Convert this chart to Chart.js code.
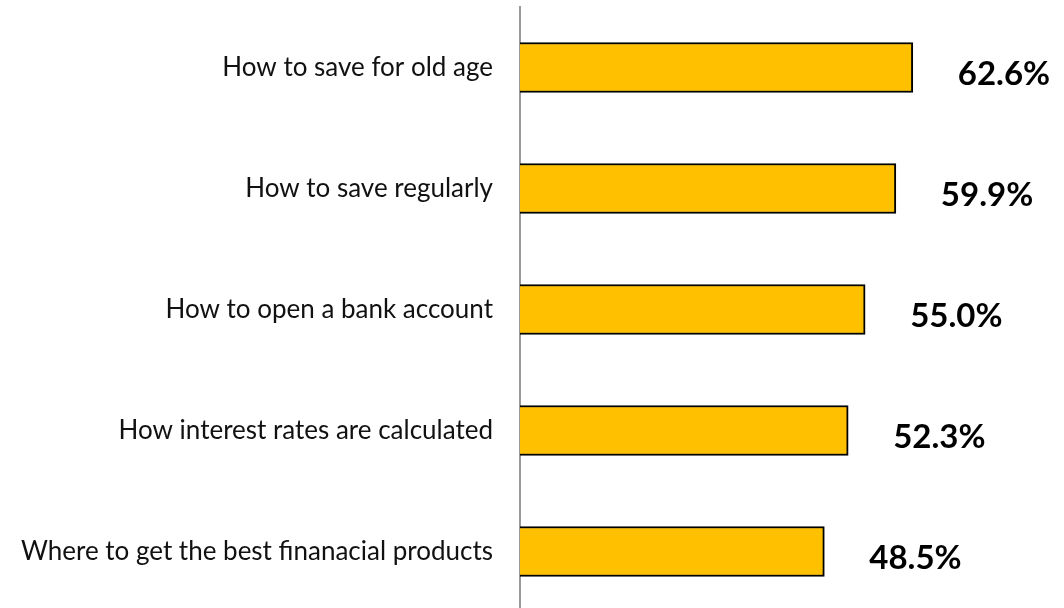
<!DOCTYPE html>
<html>
<head>
<meta charset="utf-8">
<script src="https://cdn.jsdelivr.net/npm/chart.js@4/dist/chart.umd.min.js"></script>
<style>
  html, body { margin: 0; padding: 0; background: #fff; overflow: hidden; }
  #wrap { position: relative; width: 1064px; height: 612px; }
</style>
</head>
<body>
<div id="wrap"><canvas id="c"></canvas></div>
<script>
// Topics people want to learn about, with share of respondents (%)
const topics = [
  'How to save for old age',
  'How to save regularly',
  'How to open a bank account',
  'How interest rates are calculated',
  'Where to get the best finanacial products'
];
const shares = [62.6, 59.9, 55.0, 52.3, 48.5];
const shareLabels = ['62.6%', '59.9%', '55.0%', '52.3%', '48.5%'];

// Writes each value label to the right of its bar
const valueLabels = {
  id: 'valueLabels',
  afterDatasetsDraw(chart) {
    const { ctx } = chart;
    const meta = chart.getDatasetMeta(0);
    ctx.save();
    ctx.font = 'bold 33px Lato, "Open Sans", sans-serif';
    ctx.fillStyle = '#000';
    ctx.textAlign = 'left';
    ctx.textBaseline = 'middle';
    meta.data.forEach((bar, i) => {
      ctx.fillText(shareLabels[i], bar.x + 45, bar.y + 7);
    });
    ctx.restore();
  }
};

new Chart(document.getElementById('c'), {
  type: 'bar',
  data: {
    labels: topics,
    datasets: [{
      data: shares,
      backgroundColor: '#FFC000',
      borderColor: '#000',
      borderWidth: 2,
      borderSkipped: 'start',
      barThickness: 50
    }]
  },
  options: {
    indexAxis: 'y',
    responsive: true,
    maintainAspectRatio: false,
    animation: false,
    layout: { padding: { top: 7, right: 42, bottom: 0, left: 0 } },
    plugins: {
      legend: { display: false },
      tooltip: { enabled: false }
    },
    scales: {
      x: {
        display: false,
        min: 0,
        max: 80
      },
      y: {
        grid: { display: false, drawTicks: false },
        border: { display: true, color: '#999', width: 2 },
        ticks: {
          color: '#111',
          padding: 27,
          font: { family: 'Lato, "Open Sans", sans-serif', size: 26 }
        },
        afterFit(scale) {
          scale.width = 520;
          scale.paddingTop = 0;
          scale.paddingBottom = 0;
        }
      }
    }
  },
  plugins: [valueLabels]
});
</script>
</body>
</html>
